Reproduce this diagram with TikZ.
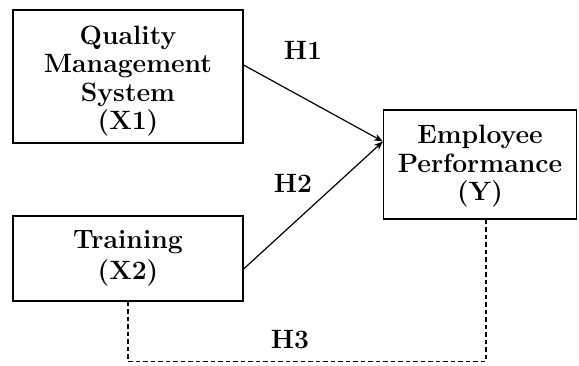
\documentclass[tikz,border=0pt]{standalone}
\usepackage{fontspec}
\usetikzlibrary{arrows.meta}
\begin{document}
\begin{tikzpicture}[x=1pt,y=-1pt,
  txt/.style={font=\fontsize{26.5}{28.5}\selectfont\bfseries},
  box/.style={txt, draw, line width=1.2pt, align=center, inner sep=0pt},
  link/.style={line width=1.2pt, -{Stealth[length=9pt,width=7pt]}},
  dashlink/.style={line width=1.2pt, dash pattern=on 4.5pt off 3pt},
  lab/.style={txt, inner sep=0pt}]
\useasboundingbox (0,0) rectangle (579,365);
\node[box, minimum width=230pt, minimum height=133pt] (b1) at (128,76.5)
  {\rule{0pt}{28pt}Quality\\Management\\System\\(X1)};
\node[box, minimum width=230pt, minimum height=85pt] (b2) at (128,258.5)
  {Training\\[2pt](X2)};
\node[box, minimum width=193pt, minimum height=109pt] (b3) at (480,164.5)
  {\rule{0pt}{22pt}Employee\\Performance\\(Y)};
\coordinate (t) at ([yshift=23pt]b3.west);
\draw[link] ([yshift=11.5pt]b1.east) -- (t);
\draw[link] ([yshift=-10.5pt]b2.east) -- (t);
\coordinate (h3) at (300,361.5);
\draw[dashlink] (b2.south) |- (h3) -| ([xshift=6pt]b3.south);
\node[lab] (l1) at (303,50) {H1};
\node[lab] (l2) at (293,183) {H2};
\node[lab] (l3) at (290,340) {H3};
\end{tikzpicture}
\end{document}
